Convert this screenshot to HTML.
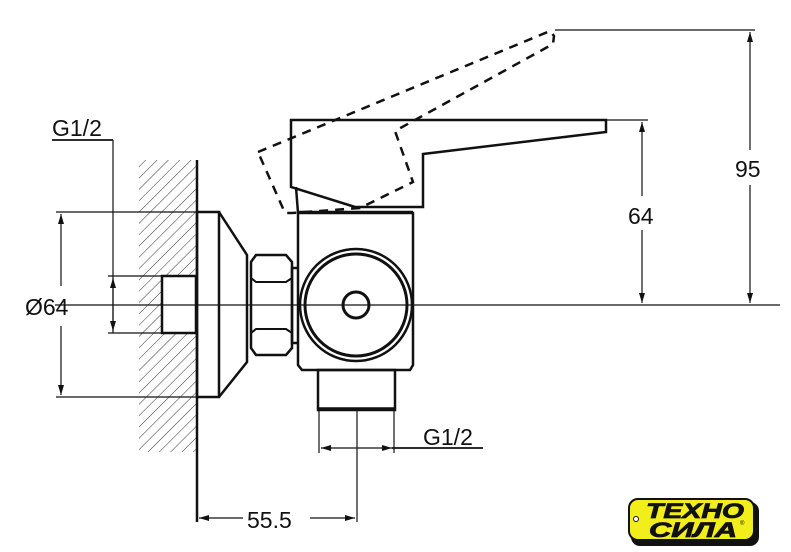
<!DOCTYPE html>
<html><head><meta charset="utf-8"><style>
html,body{margin:0;padding:0;background:#fff;}
svg{display:block;}
text{font-family:"Liberation Sans",Arial,sans-serif;fill:#111;}
</style></head><body>
<svg width="791" height="552" viewBox="0 0 791 552" xmlns="http://www.w3.org/2000/svg">
<defs>
<pattern id="h" width="8" height="8" patternUnits="userSpaceOnUse" patternTransform="rotate(45)">
<line x1="0" y1="0" x2="0" y2="8" stroke="#333" stroke-width="1"/>
</pattern>
<marker id="a" viewBox="0 0 10 6" refX="10" refY="3" markerWidth="10" markerHeight="6" orient="auto-start-reverse" markerUnits="userSpaceOnUse">
<path d="M0,0 L10,3 L0,6z" fill="#111"/>
</marker>
</defs>
<g fill="none" stroke="#111">
<rect x="139" y="160" width="57" height="292" fill="url(#h)" stroke="none"/>
<rect x="162" y="276" width="34" height="57" fill="#fff" stroke="#111" stroke-width="2.5"/>
<line x1="197" y1="160" x2="197" y2="522" stroke-width="2.5"/>
<rect x="197" y="212" width="22" height="185" stroke-width="2.5"/>
<path d="M219,212 L247,255 L247,362 L219,397" stroke-width="2.5"/>
<path d="M251,262 L256,255 L286,255 L292,262 L292,348 L286,355 L256,355 L251,348 Z" stroke-width="2.5"/>
<path d="M251,278 L256,282 L286,282 L292,278 M251,333 L256,329 L286,329 L292,333 M251,262 L251,278 M251,333 L251,348" stroke-width="2"/>
<rect x="292" y="268" width="13" height="75" stroke-width="2.5"/>
<path d="M298,213 L413,213 L413,365 L410,370 L302,370 L298,365 Z" fill="#fff" stroke-width="2.5"/>
<circle cx="356" cy="305" r="56" fill="#fff" stroke-width="2.5"/>
<circle cx="356" cy="305" r="51" stroke-width="3"/>
<circle cx="356" cy="305" r="13" stroke-width="3"/>
<rect x="318" y="370" width="77" height="40" stroke-width="2.5"/>
<line x1="318" y1="409" x2="395" y2="409" stroke-width="3.5"/>
<path d="M291,120 L606,120 L606,132 L423,154 L423,207 L355,207 L291,187 Z" fill="#fff" stroke-width="2.5"/>
<line x1="296" y1="187" x2="298" y2="213" stroke-width="2.5"/>
<line x1="298" y1="212" x2="413" y2="212" stroke-width="2.5"/>
<path d="M258,152 L550,31 L554,36 L553,44 L395,131 L413,182 L360,208 L292,213 L285,213 L258,152" stroke-width="2.5" stroke-dasharray="9,7"/>
<line x1="55" y1="305" x2="780" y2="305" stroke-width="1.2"/>
<line x1="357" y1="410" x2="357" y2="522" stroke-width="1.2"/>
<line x1="52" y1="140" x2="113" y2="140" stroke-width="1.8"/>
<line x1="113" y1="140" x2="113" y2="333" stroke-width="1.2"/>
<line x1="108" y1="276" x2="162" y2="276" stroke-width="1.2"/>
<line x1="108" y1="333" x2="162" y2="333" stroke-width="1.2"/>
<line x1="56" y1="212" x2="197" y2="212" stroke-width="1.2"/>
<line x1="56" y1="397" x2="197" y2="397" stroke-width="1.2"/>
<line x1="555" y1="30" x2="755" y2="30" stroke-width="1.2"/>
<line x1="606" y1="120" x2="648" y2="120" stroke-width="1.2"/>
<line x1="319" y1="410" x2="319" y2="453" stroke-width="1.2"/>
<line x1="394" y1="410" x2="394" y2="453" stroke-width="1.2"/>
<line x1="113" y1="278" x2="113" y2="331" stroke-width="1.2" marker-start="url(#a)" marker-end="url(#a)"/>
<line x1="61" y1="214" x2="61" y2="286" stroke-width="1.2" marker-start="url(#a)"/>
<line x1="61" y1="326" x2="61" y2="395" stroke-width="1.2" marker-end="url(#a)"/>
<line x1="642" y1="122" x2="642" y2="196" stroke-width="1.2" marker-start="url(#a)"/>
<line x1="642" y1="230" x2="642" y2="303" stroke-width="1.2" marker-end="url(#a)"/>
<line x1="750" y1="32" x2="750" y2="150" stroke-width="1.2" marker-start="url(#a)"/>
<line x1="750" y1="185" x2="750" y2="303" stroke-width="1.2" marker-end="url(#a)"/>
<line x1="321" y1="448" x2="392" y2="448" stroke-width="1.2" marker-start="url(#a)" marker-end="url(#a)"/>
<line x1="392" y1="448" x2="483" y2="448" stroke-width="1.8"/>
<line x1="199" y1="518" x2="243" y2="518" stroke-width="1.2" marker-start="url(#a)"/>
<line x1="310" y1="518" x2="355" y2="518" stroke-width="1.2" marker-end="url(#a)"/>
</g>
<text x="52" y="136" font-size="23">G1/2</text>
<text x="25" y="315" font-size="23">Ø64</text>
<text x="628" y="224" font-size="23">64</text>
<text x="735" y="177" font-size="23">95</text>
<text x="423" y="445" font-size="23">G1/2</text>
<text x="247" y="528" font-size="23">55.5</text>
<g transform="translate(629,499)">
<rect x="2" y="3" width="128" height="44" rx="9" fill="#111"/>
<rect x="0" y="0" width="125" height="41" rx="9" fill="#f2ee1c" stroke="#111" stroke-width="2"/>
<circle cx="7" cy="20" r="2.5" fill="#fff" stroke="#111" stroke-width="1"/>
<text x="66" y="19" font-size="21" font-weight="bold" font-style="italic" text-anchor="middle" stroke="#111" stroke-width="0.8" textLength="98" lengthAdjust="spacingAndGlyphs">ТЕХНО</text>
<text x="64" y="38" font-size="21" font-weight="bold" font-style="italic" text-anchor="middle" stroke="#111" stroke-width="0.8" textLength="88" lengthAdjust="spacingAndGlyphs">СИЛА</text>
<text x="111" y="26" font-size="6">®</text>
</g>
</svg>
</body></html>
